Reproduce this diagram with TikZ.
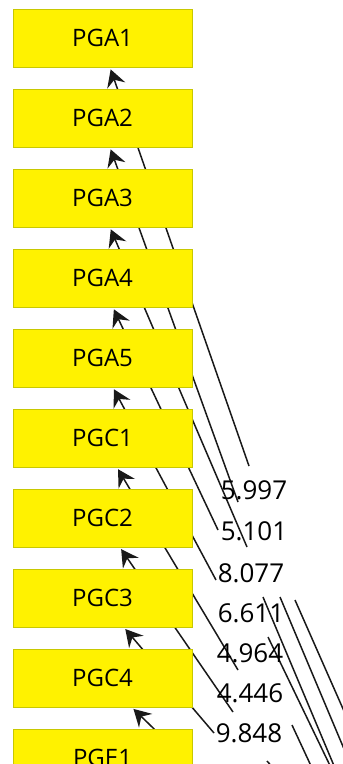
\documentclass[tikz,border=0pt]{standalone}
\usepackage{fontspec}
\setmainfont{Open Sans}
\usetikzlibrary{arrows.meta,positioning,backgrounds}

\begin{document}
\begin{tikzpicture}[x=1pt,y=-1pt,>={Stealth[length=17pt,width=19pt,inset=6pt]},->,shorten >=2pt,node distance=80pt]
                \tikzstyle{box}=[draw={rgb,255:red,200;green,200;blue,0},fill=yellow,line width=1pt,minimum width=179pt,minimum height=58pt,inner sep=0pt,font=\fontsize{24}{29}\selectfont]
                \tikzstyle{weight}=[inner sep=0pt,font=\fontsize{26}{31}\selectfont]
                \tikzstyle{link}=[draw=black!90,line width=1.5pt]

                \useasboundingbox (0,0) rectangle (343,764);

                \node[box] at (102.5,38) (PGA1) {PGA1};
                \node[box] (PGA2) [below of=PGA1] {PGA2};
                \node[box] (PGA3) [below of=PGA2] {PGA3};
                \node[box] (PGA4) [below of=PGA3] {PGA4};
                \node[box] (PGA5) [below of=PGA4] {PGA5};
                \node[box] (PGC1) [below of=PGA5] {PGC1};
                \node[box] (PGC2) [below of=PGC1] {PGC2};
                \node[box] (PGC3) [below of=PGC2] {PGC3};
                \node[box] (PGC4) [below of=PGC3] {PGC4};
                \node[box] (PGE1) [below of=PGC4] {PGE1};

                \node[weight] at (254,490) (w_1) {5.997};
                \node[weight] at (254,531) (w_2) {5.101};
                \node[weight] at (251,573) (w_3) {8.077};
                \node[weight] at (251,613) (w_4) {6.611};
                \node[weight] at (250,653) (w_5) {4.964};
                \node[weight] at (250,693) (w_6) {4.446};
                \node[weight] at (249,733) (w_7) {9.848};

                % tails of the incoming edges, beside the weights
                \coordinate (t_1) at (249,466);
                \coordinate (t_2) at (238,502);
                \coordinate (t_3) at (247,547);
                \coordinate (t_4) at (218,530);
                \coordinate (t_5) at (216,580);
                \coordinate (t_6) at (238,670);
                \coordinate (t_7) at (233,712);
                \coordinate (t_8) at (214,733);
                \coordinate (t_9) at (183,757);

                % outgoing lines on the right
                \coordinate (r_1) at (263,597);  \coordinate (r_1-end) at (340,780);
                \coordinate (r_2) at (280,597);  \coordinate (r_2-end) at (355,775);
                \coordinate (r_3) at (295,600);  \coordinate (r_3-end) at (370,770);
                \coordinate (r_4) at (268,637);  \coordinate (r_4-end) at (336,778);
                \coordinate (r_5) at (292,725);  \coordinate (r_5-end) at (312,768);
                \coordinate (r_6) at (267,761);  \coordinate (r_6-end) at (275,770);

                \begin{pgfonlayer}{background}
                \path (t_1) edge[link] ([xshift=7.5pt]PGA1.south);
                \path (t_2) edge[link] ([xshift=7.5pt]PGA2.south);
                \path (t_3) edge[link] ([xshift=7.5pt]PGA3.south);
                \path (t_4) edge[link] ([xshift=10.5pt]PGA4.south);
                \path (t_5) edge[link] ([xshift=10.5pt]PGA5.south);
                \path (t_6) edge[link] ([xshift=14.5pt]PGC1.south);
                \path (t_7) edge[link] ([xshift=17.5pt]PGC2.south);
                \path (t_8) edge[link] ([xshift=21.5pt]PGC3.south);
                \path (t_9) edge[link] ([xshift=29.5pt]PGC4.south);

                \path (r_1) edge[link,-] (r_1-end);
                \path (r_2) edge[link,-] (r_2-end);
                \path (r_3) edge[link,-] (r_3-end);
                \path (r_4) edge[link,-] (r_4-end);
                \path (r_5) edge[link,-] (r_5-end);
                \path (r_6) edge[link,-] (r_6-end);
                \end{pgfonlayer}
\end{tikzpicture}
\end{document}
